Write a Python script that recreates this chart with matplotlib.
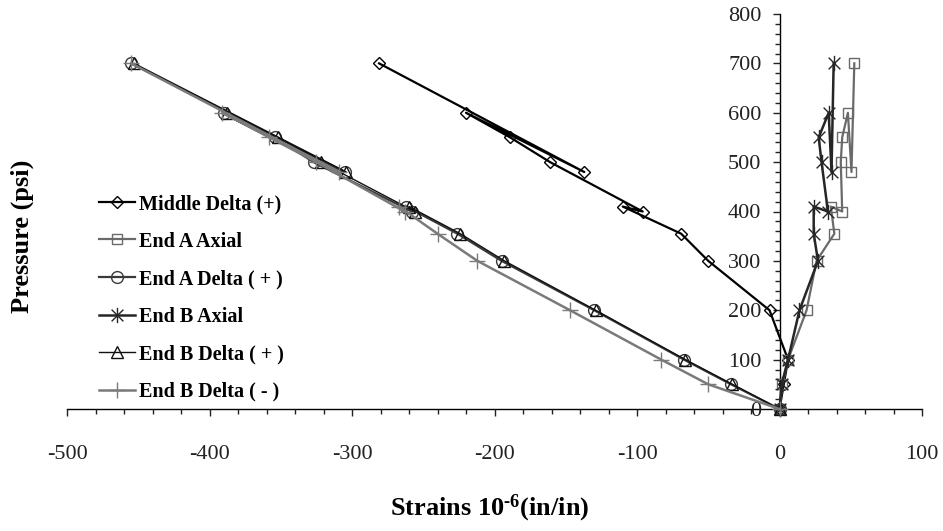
import matplotlib
matplotlib.use("Agg")
import matplotlib.pyplot as plt
from matplotlib.path import Path
from matplotlib.ticker import MultipleLocator

plt.rcParams['font.family'] = ['Liberation Serif', 'DejaVu Serif']
plt.rcParams['axes.unicode_minus'] = False
plt.rcParams['mathtext.fontset'] = 'custom'
plt.rcParams['mathtext.rm'] = 'Liberation Serif:bold'
plt.rcParams['mathtext.bf'] = 'Liberation Serif:bold'
plt.rcParams['mathtext.it'] = 'Liberation Serif:bold'

# ---- data ----
pressure = [0, 50, 100, 200, 300, 355, 410, 400, 500, 550, 600, 480, 700]
middle_delta = [0, 3, 6, -7, -50, -69, -110, -96, -161, -189, -220, -137, -281]
end_a_axial = [0, 2, 6, 19, 26, 38.5, 36, 44, 43, 44, 48, 50.5, 52.5]
end_a_delta = [0, -34, -67, -130, -195, -226, -262, -258, -327, -354, -390, -305, -455]
end_b_axial = [0, 1.5, 6, 14, 27, 24, 24, 34, 29.5, 27.5, 34.5, 36.5, 38]
end_b_delta_pos = [0, -33, -66, -129, -193, -224, -260, -256, -322, -352, -388, -304, -453]
end_b_delta_neg = [0, -50, -83, -147, -212, -240, -267, -263, -325, -358, -391, -309, -455]

series_names = ["Middle Delta (+)", "End A Axial", "End A Delta ( + )",
                "End B Axial", "End B Delta ( + )", "End B Delta ( - )"]

x_ticks = [-500, -400, -300, -200, -100, 0, 100]
y_ticks = [0, 100, 200, 300, 400, 500, 600, 700, 800]

# star marker (X with vertical bar)
star = Path([(-1, -1), (1, 1), (-1, 1), (1, -1), (0, -1.3), (0, 1.3)],
            [Path.MOVETO, Path.LINETO, Path.MOVETO, Path.LINETO, Path.MOVETO, Path.LINETO])

styles = [
    dict(color='#000000', marker='D', ms=6.5, lw=1.6),
    dict(color='#6a6a6a', marker='s', ms=7, lw=1.6),
    dict(color='#3a3a3a', marker='o', ms=8.5, lw=1.6),
    dict(color='#262626', marker=star, ms=11, lw=1.8),
    dict(color='#111111', marker='^', ms=8.5, lw=1.0),
    dict(color='#7a7a7a', marker='+', ms=11, lw=1.8),
]
data = [middle_delta, end_a_axial, end_a_delta, end_b_axial, end_b_delta_pos, end_b_delta_neg]

fig = plt.figure(figsize=(9.43, 5.31), dpi=100)
W, H = 943, 531
ax = fig.add_axes([67 / W, 1 - 409 / H, 855 / W, 395 / H])

for xs, name, st in zip(data, series_names, styles):
    ax.plot(xs, pressure, color=st['color'], lw=st['lw'], marker=st['marker'],
            markersize=st['ms'], markerfacecolor='none', markeredgecolor=st['color'],
            markeredgewidth=1.0, label=name, clip_on=False)

ax.set_xlim(-500, 100)
ax.set_ylim(0, 800)
ax.spines['left'].set_position(('data', 0))
ax.spines['bottom'].set_position(('data', 0))
ax.spines['top'].set_visible(False)
ax.spines['right'].set_visible(False)
for s in ('left', 'bottom'):
    ax.spines[s].set_linewidth(1.0)
    ax.spines[s].set_zorder(0.5)

ax.set_xticks(x_ticks)
ax.set_yticks(y_ticks)
ax.xaxis.set_minor_locator(MultipleLocator(20))
ax.yaxis.set_minor_locator(MultipleLocator(20))
ax.tick_params(axis='both', which='major', direction='out', length=5, width=1, labelsize=16,
               colors='#222222')
ax.tick_params(axis='both', which='minor', direction='out', length=3.5, width=1, colors='#222222')
ax.tick_params(axis='x', which='major', pad=21)
ax.tick_params(axis='y', which='major', pad=8)

leg = ax.legend(loc='upper left', bbox_to_anchor=(99 / W, 1 - 194 / H),
                bbox_transform=fig.transFigure, frameon=False, borderpad=0,
                borderaxespad=0, handlelength=1.8, handletextpad=0.2,
                labelspacing=0.87, prop={'weight': 'bold', 'size': 14.5})

fig.text(490 / W, 1 - 508 / H, r"Strains 10$^{\text{-6}}$(in/in)", ha='center', va='center',
         fontsize=19, fontweight='bold')
fig.text(22 / W, 1 - 236 / H, "Pressure (psi)", ha='center', va='center', rotation=90,
         fontsize=19, fontweight='bold')

fig.savefig("out.png", dpi=100)
